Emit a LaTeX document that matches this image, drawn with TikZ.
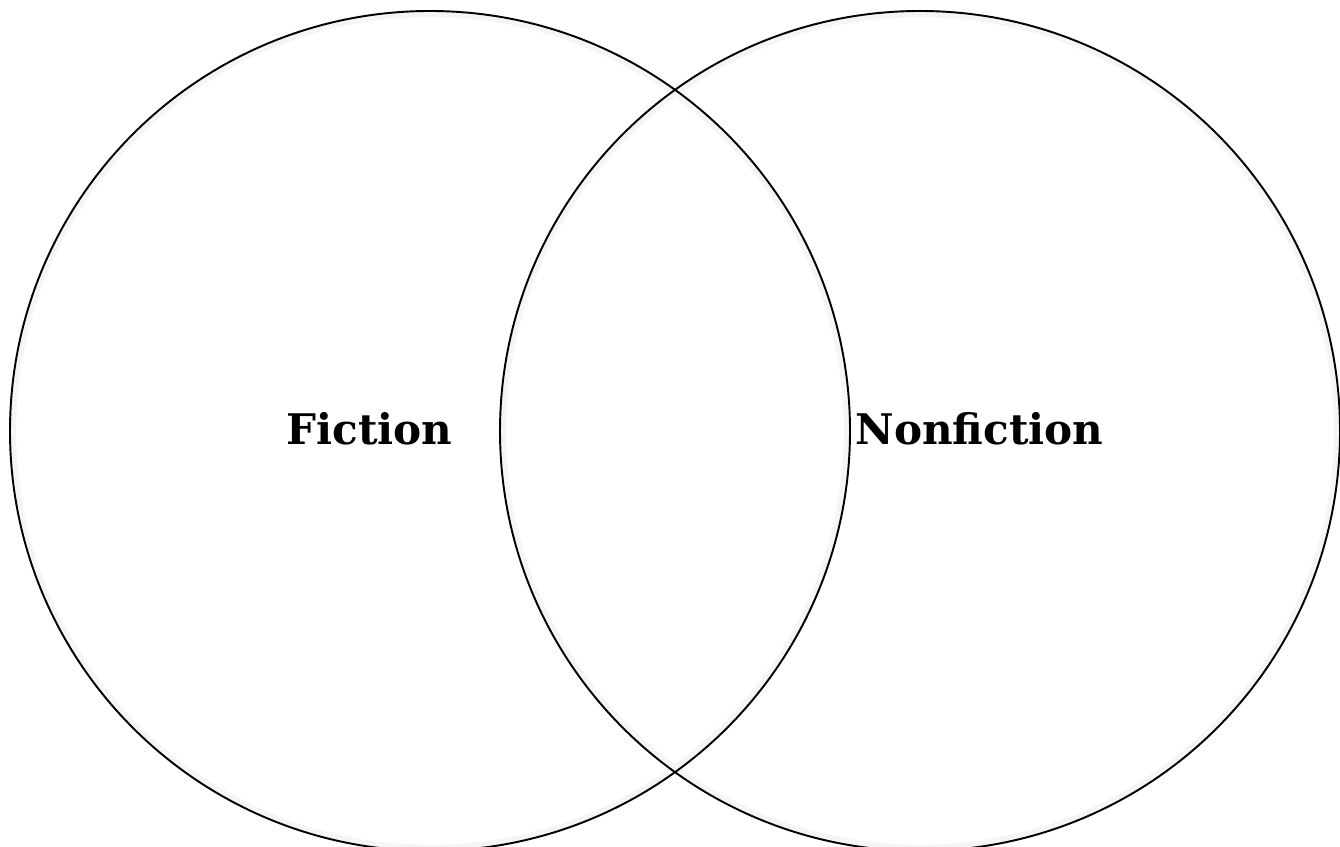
\documentclass[tikz,border=0pt]{standalone}
\usepackage{fontspec}
\newfontfamily\slabfont{DejaVu Serif}
\usetikzlibrary{positioning}

\begin{document}
\begin{tikzpicture}[ring/.style={circle, draw, line width=1.1pt, minimum size=16.8cm, inner sep=0pt},
  glow/.style={circle, draw=black!4, line width=3pt, minimum size=16.66cm, inner sep=0pt},
  lbl/.style={font=\slabfont\bfseries\fontsize{24}{28}\selectfont, inner sep=0pt, anchor=base}]
\useasboundingbox (0,0) rectangle (26.8,16.92);
\clip (0,0) rectangle (26.8,16.92);
%soft edges
\node[glow] (ficglow) at (8.6,8.3) {};
\node[glow] (nonficglow) at (18.4,8.3) {};
%circles
\node[ring] (fic) at (8.6,8.3) {};
\node[ring] (nonfic) at (18.4,8.3) {};
%labels
\node[lbl] (ficlbl) at (7.39,8.02) {Fiction};
\node[lbl] (nonficlbl) at (19.59,8.02) {Nonfiction};
\end{tikzpicture}
\end{document}
